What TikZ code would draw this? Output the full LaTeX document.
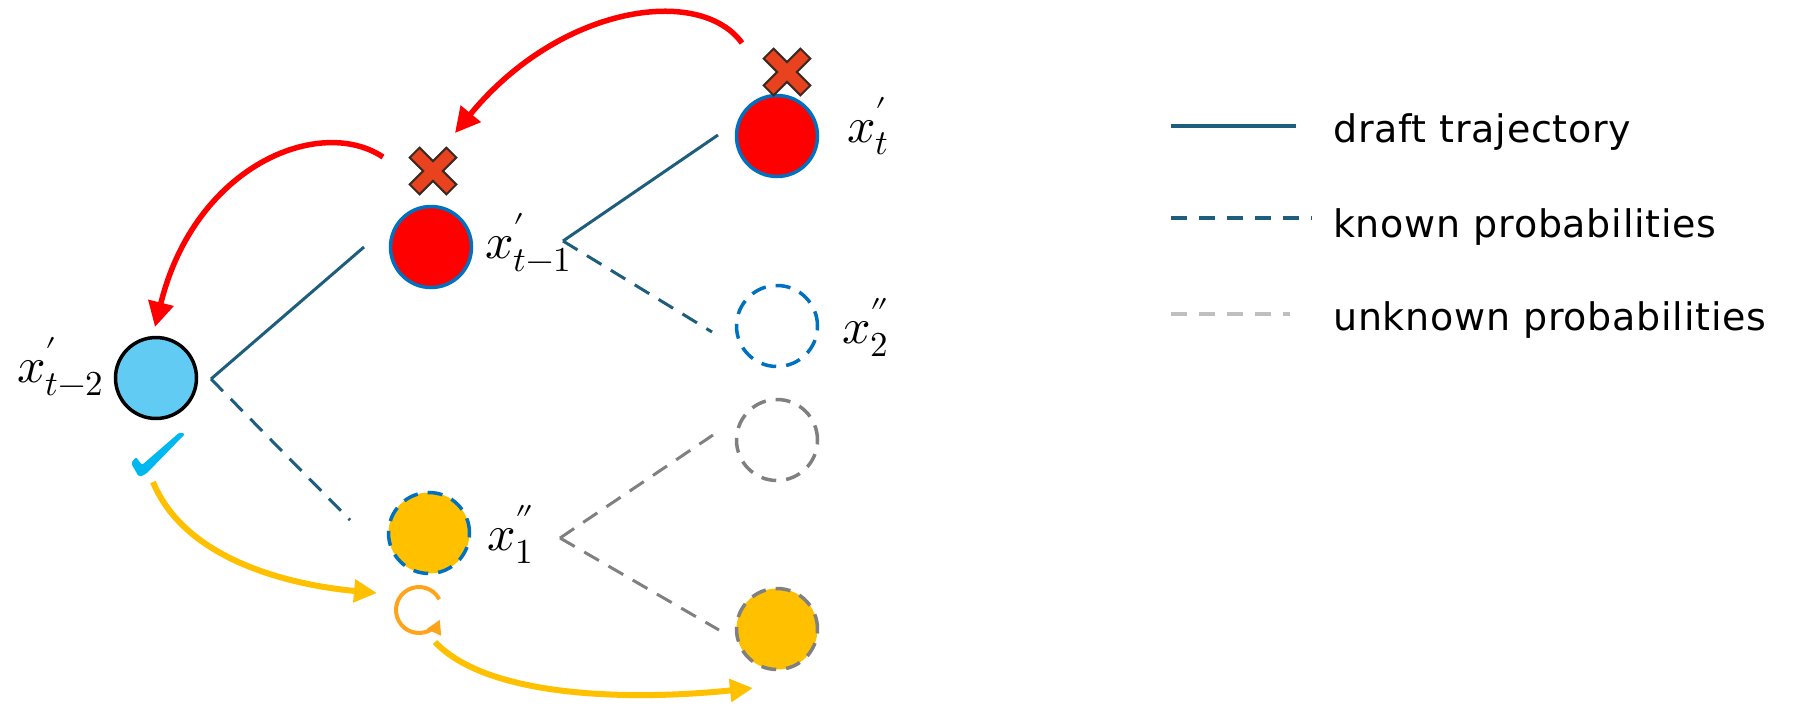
\documentclass[tikz,border=0pt]{standalone}
\usepackage{fontspec}
\usepackage{unicode-math}
\setmathfont{Latin Modern Math}
\newfontfamily\legendfont[LetterSpace=2]{DejaVu Sans}
\usetikzlibrary{arrows.meta}
\definecolor{treeblue}{HTML}{1E5E7D}
\definecolor{ringblue}{HTML}{0070C0}
\definecolor{skyfill}{HTML}{61CBF4}
\definecolor{gold}{HTML}{FFC000}
\definecolor{refresh}{HTML}{FFA31A}
\definecolor{ugray}{HTML}{808080}
\definecolor{lgray}{HTML}{BFBFBF}
\definecolor{crossfill}{HTML}{E8431E}
\definecolor{crossline}{HTML}{3A2A22}
\definecolor{checkc}{HTML}{00B8F0}
\tikzset{
  tok/.style={circle, minimum size=81pt, inner sep=0pt, line width=3.5pt},
  redtok/.style={tok, fill=red, draw=ringblue},
  skytok/.style={tok, fill=skyfill, draw=black},
  dashring/.style={dash pattern=on 15pt off 10pt},
  lbl/.style={anchor=base west, inner sep=0pt, font=\fontsize{50}{58}\selectfont},
  solidedge/.style={draw=treeblue, line width=3pt},
  knownedge/.style={draw=treeblue, line width=3pt, dash pattern=on 17pt off 11pt},
  unkedge/.style={draw=ugray, line width=3pt, dash pattern=on 17pt off 11pt},
  redarrow/.style={draw=red, line width=5.5pt, -{Triangle[length=25pt,width=25pt]}},
  goldarrow/.style={draw=gold, line width=6pt, -{Triangle[length=23pt,width=22pt]}},
  legtext/.style={anchor=base west, inner sep=0pt, font=\legendfont\fontsize{38}{44}\selectfont},
}
\newcommand{\crossmark}[1]{%
  \begin{scope}[shift={#1}, rotate=45]
    \filldraw[fill=crossfill, draw=crossline, line width=2pt, line join=miter]
      (7,7) -- (26,7) -- (26,-7) -- (7,-7) -- (7,-26) -- (-7,-26) -- (-7,-7)
      -- (-26,-7) -- (-26,7) -- (-7,7) -- (-7,26) -- (7,26) -- cycle;
  \end{scope}}
\begin{document}
\begin{tikzpicture}[x=1pt, y=-1pt]
\useasboundingbox (0,0) rectangle (1808,705);

% nodes
\node[skytok] (a) at (156,378) {};
\node[redtok] (b) at (431,247) {};
\node[redtok] (c) at (777,136) {};
\node[tok, draw=ringblue, dashring] (d) at (777,326) {};
\node[tok, fill=gold, draw=ringblue, dashring] (e) at (429,533) {};
\node[tok, draw=ugray, dashring] (f) at (777,440) {};
\node[tok, fill=gold, draw=ugray, dashring] (g) at (777,629) {};

% labels
\node[lbl] (la) at (17,382) {$x'_{t-2}$};
\node[lbl] (lb) at (485,258) {$x'_{t-1}$};
\node[lbl] (lc) at (847,142) {$x'_{t}$};
\node[lbl] (ld) at (842,343) {$x''_{2}$};
\node[lbl] (le) at (487,550) {$x''_{1}$};

% crosses
\crossmark{(787,72)}
\crossmark{(433,171)}

% tree connectors
\coordinate (va) at (211,379);
\coordinate (vb) at (563,241);
\coordinate (ve) at (560,538);
\coordinate (ab) at (364,247);
\coordinate (bc) at (718,135);
\coordinate (ae) at (350,520);
\coordinate (bd) at (712,332);
\coordinate (ef) at (713,435);
\coordinate (eg) at (719,630);
\draw[solidedge] (va) -- (ab);
\draw[solidedge] (vb) -- (bc);
\draw[knownedge] (va) -- (ae);
\draw[knownedge] (vb) -- (bd);
\draw[unkedge] (ve) -- (ef);
\draw[unkedge] (ve) -- (eg);

% red arrows
\coordinate (r1s) at (742,43);
\coordinate (r1e) at (455,133);
\coordinate (r2s) at (383,157);
\coordinate (r2e) at (155,327);
\draw[redarrow] (r1s) .. controls (700,-15) and (560,5) .. (r1e);
\draw[redarrow] (r2s) .. controls (320,115) and (195,165) .. (r2e);

% check mark
\fill[checkc, rounded corners=2pt]
  (131,463) -- (136,457) -- (142,465) -- (180,432) -- (185,434) -- (146,474) -- (139,477) -- cycle;

% refresh icon
\coordinate (cyc) at (419,610);
\draw[refresh, line width=4pt, -{Triangle[length=14pt,width=15pt]}]
  ([shift={(-28:23)}]cyc) arc[start angle=-28, end angle=-335, radius=23];

% gold arrows
\coordinate (g1s) at (153,482);
\coordinate (g1e) at (377,593);
\coordinate (g2s) at (435,642);
\coordinate (g2e) at (753,688);
\draw[goldarrow] (g1s) .. controls (185,560) and (290,585) .. (g1e);
\draw[goldarrow] (g2s) .. controls (490,700) and (640,700) .. (g2e);

% legend
\coordinate (l1a) at (1171,126); \coordinate (l1b) at (1296,126);
\coordinate (l2a) at (1171,218); \coordinate (l2b) at (1312,218);
\coordinate (l3a) at (1171,314); \coordinate (l3b) at (1290,314);
\draw[treeblue, line width=4pt] (l1a) -- (l1b);
\draw[treeblue, line width=4pt, dash pattern=on 16pt off 12pt] (l2a) -- (l2b);
\draw[lgray, line width=4pt, dash pattern=on 16pt off 12pt] (l3a) -- (l3b);
\node[legtext] (t1) at (1333,142) {draft trajectory};
\node[legtext] (t2) at (1333,237) {known probabilities};
\node[legtext] (t3) at (1333,330) {unknown probabilities};
\end{tikzpicture}
\end{document}
